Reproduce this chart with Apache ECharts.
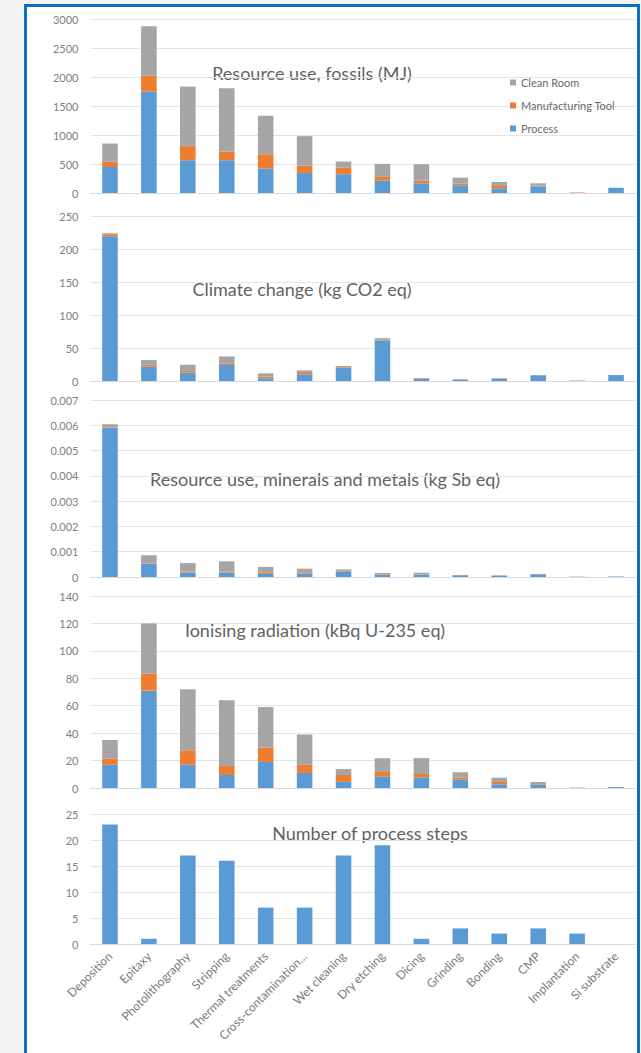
<!DOCTYPE html>
<html>
<head>
<meta charset="utf-8">
<script src="https://cdn.jsdelivr.net/npm/echarts@6/dist/echarts.min.js"></script>
<style>
  html, body { margin:0; padding:0; background:#f4f4f4; width:641px; height:1053px; overflow:hidden; }
  #frame { position:absolute; left:24px; top:4px; width:610px; height:1080px; border:3px solid #0b6fc2; background:#ffffff; }
  #chart { position:absolute; left:0; top:0; width:641px; height:1053px; }
</style>
</head>
<body>
<div id="frame"></div>
<div id="chart"></div>
<script>
const categories = ['Deposition','Epitaxy','Photolithography','Stripping','Thermal treatments','Cross-contamination…','Wet cleaning','Dry etching','Dicing','Grinding','Bonding','CMP','Implantation','Si substrate'];

const seriesNames = ['Process','Manufacturing Tool','Clean Room'];
const legendOrder = ['Clean Room','Manufacturing Tool','Process'];

const panelTitles = ['Resource use, fossils (MJ)','Climate change (kg CO2 eq)','Resource use, minerals and metals (kg Sb eq)','Ionising radiation (kBq U-235 eq)','Number of process steps'];

// Panel 1: Resource use, fossils (MJ)
const fossilsProcess = [450,1750,565,565,420,345,323,213,167,133,81,115,0,90];
const fossilsTool    = [87,272,243,145,248,127,116,64,46,29,40,12,8,0];
const fossilsClean   = [317,853,1027,1096,664,508,103,225,283,103,69,40,0,0];

// Panel 2: Climate change (kg CO2 eq)
const climateProcess = [219.5,21.7,12.6,24.2,4,9.6,20.2,61.6,3,2.2,3.6,8.6,0.2,9];
const climateTool    = [3,3,2.5,2,2.6,2.5,1,1,0.3,0.1,0.2,0.2,0.6,0];
const climateClean   = [1.5,7,9.5,11,5,4,1.5,2.4,1.2,0.3,0.6,0.3,0,0];

// Panel 3: Resource use, minerals and metals (kg Sb eq)
const mineralsProcess = [0.0059,0.00052,0.00018,0.00018,0.00012,0.00013,0.00022,0.00008,0.00008,0.00007,0.00005,0.00011,0.000005,0.00002];
const mineralsTool    = [0.00002,0.00002,0.00004,0.00004,0.00005,0.00003,0.00002,0.00001,0.00001,0.000005,0.00001,0.000005,0.00001,0];
const mineralsClean   = [0.00012,0.00032,0.00033,0.0004,0.00023,0.00017,0.00006,0.00007,0.00008,0.000005,0.00001,0.000005,0,0];

// Panel 4: Ionising radiation (kBq U-235 eq)
const radiationProcess = [17,71,17,9.5,19,11,4.5,8.5,7.8,6,2.7,2.4,0.2,0.7];
const radiationTool    = [4.5,12.5,10.5,6.5,10.5,6,5,3.2,2.4,1.5,1.7,0.5,0.1,0];
const radiationClean   = [13.5,36.5,44.5,48,29.5,22,4.3,10,11.6,4,3.1,1.5,0,0];

// Panel 5: Number of process steps
const processSteps = [23,1,17,16,7,7,17,19,1,3,2,3,2,0];

// y-axis scales (min, max, interval) per panel
const yMin = [0,0,0,0,0];
const yMax = [3000,250,0.007,140,25];
const yInterval = [500,50,0.001,20,5];

const colors = {'Process':'#5b9bd5','Manufacturing Tool':'#ed7d31','Clean Room':'#a5a5a5'};

// layout
const FONT = 'Lato, "Open Sans", sans-serif';
const gridTops = [19, 216, 400, 596, 814];
const gridBottoms = [193, 381, 577, 788, 944];
const titlePos = [[312,73],[302,289],[325,479],[315,630],[370,833]];

const grids = gridTops.map((t,i)=>({left:90.5, width:545, top:t, height:gridBottoms[i]-t}));

const xAxes = grids.map((g,i)=>({
  type:'category', gridIndex:i, data:categories,
  axisLine:{show:true, lineStyle:{color:'#d9d9d9', width:1}},
  axisTick:{show:false},
  axisLabel: i===4 ? {show:true, interval:0, rotate:45, fontSize:12, color:'#7a7a7a', fontFamily:FONT, margin:10} : {show:false},
  splitLine:{show:false}
}));

const yAxes = grids.map((g,i)=>({
  type:'value', gridIndex:i, min:yMin[i], max:yMax[i], interval:yInterval[i],
  axisLine:{show:false}, axisTick:{show:false},
  splitLine:{show:true, lineStyle:{color:'#e4e4e4', width:1}},
  axisLabel:{fontSize:11, color:'#808080', fontFamily:FONT, margin:12,
    formatter: i===2 ? (v)=> v===0 ? '0' : v.toFixed(3) : (v)=> String(Math.round(v))}
}));

const panelData = [
  [fossilsProcess, fossilsTool, fossilsClean],
  [climateProcess, climateTool, climateClean],
  [mineralsProcess, mineralsTool, mineralsClean],
  [radiationProcess, radiationTool, radiationClean]
];

const series = [];
panelData.forEach((arrs, i)=>{
  arrs.forEach((arr, k)=>{
    series.push({
      type:'bar', name:seriesNames[k], xAxisIndex:i, yAxisIndex:i, stack:'p'+i,
      data:arr, barWidth:'40%', itemStyle:{color:colors[seriesNames[k]]}, silent:true
    });
  });
});
series.push({type:'bar', name:'Steps', xAxisIndex:4, yAxisIndex:4, data:processSteps, barWidth:'40%', itemStyle:{color:'#5b9bd5'}, silent:true});

const graphics = panelTitles.map((t,i)=>({
  type:'text', x:titlePos[i][0], y:titlePos[i][1], silent:true,
  style:{text:t, fill:'#626262', font:'18px ' + FONT, align:'center', verticalAlign:'middle'}
}));

const chart = echarts.init(document.getElementById('chart'), null, {renderer:'svg'});
chart.setOption({
  animation:false,
  backgroundColor:'transparent',
  grid:grids, xAxis:xAxes, yAxis:yAxes, series:series,
  legend:{data:legendOrder, orient:'vertical', left:505, top:72, padding:5, itemWidth:6, itemHeight:6, itemGap:12,
    icon:'rect', textStyle:{fontSize:11, color:'#6a6a6a', fontFamily:FONT}, selectedMode:false},
  graphic:graphics
});
</script>
</body>
</html>
